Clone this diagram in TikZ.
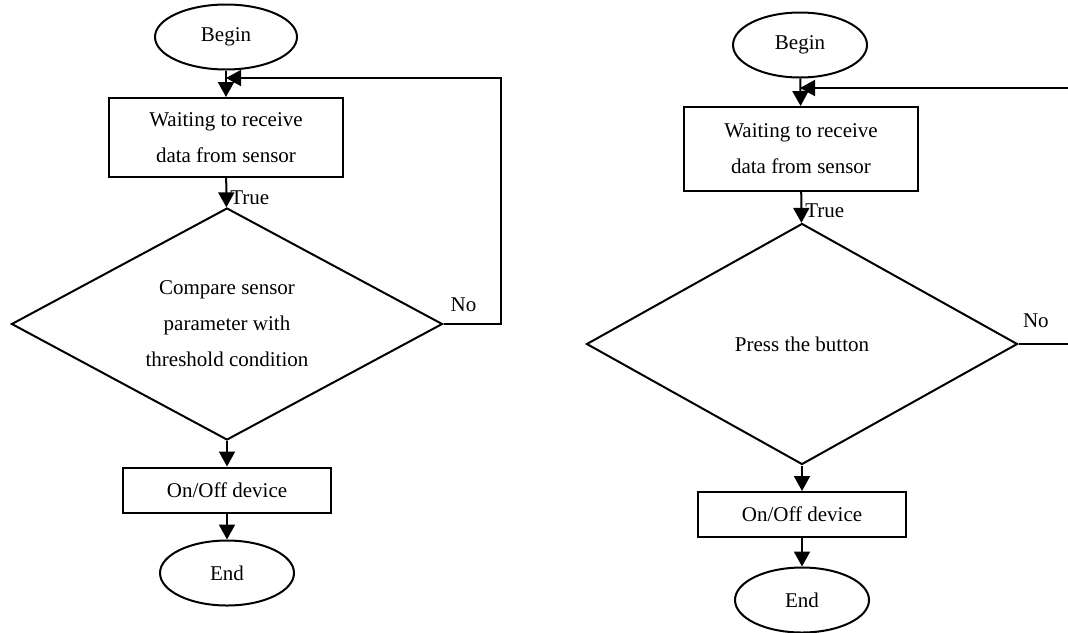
\documentclass[tikz,border=0pt]{standalone}
\usepackage{fontspec}
\setmainfont{Liberation Serif}
\usetikzlibrary{shapes.geometric, arrows.meta}

\begin{document}
\begin{tikzpicture}[x=0.5pt, y=-0.5pt, line width=1pt,
    font=\fontsize{10.5}{18}\selectfont,
    startstop/.style={ellipse, draw, inner sep=0pt, minimum width=67pt, minimum height=32.5pt},
    process/.style={rectangle, draw, align=center, inner sep=0pt, minimum width=117pt},
    decision/.style={diamond, draw, align=center, inner sep=0pt, aspect=2, minimum width=215.5pt},
    flow/.style={-{Triangle[length=7.5pt,width=8pt]}},
    lbl/.style={inner sep=1.5pt}]
    \useasboundingbox (0,0) rectangle (1068,632);

    \node[startstop, minimum width=71pt] (begin1) at (226,37) {Begin};
    \node[process, minimum height=39.5pt] (wait1) at (226,137.5) {Waiting to receive\\data from sensor};
    \node[decision, minimum height=116pt] (cmp1) at (227,324) {Compare sensor\\parameter with\\threshold condition};
    \node[process, minimum width=104pt, minimum height=22.5pt] (dev1) at (227,490) {On/Off device};
    \node[startstop] (end1) at (227,573) {End};
    \coordinate (join1) at (226,78);

    \path[flow]
        (begin1) edge (wait1)
        (wait1) edge node[right, lbl, pos=0.68] {True} (cmp1)
        (cmp1) edge (dev1)
        (dev1) edge (end1);
    \draw[flow] (cmp1.east) -- node[above=4pt, lbl, pos=0.35] {No} ++(57,0) |- (join1);

    \node[startstop] (begin2) at (800,45) {Begin};
    \node[process, minimum height=42pt] (wait2) at (801,149) {Waiting to receive\\data from sensor};
    \node[decision, minimum height=120.5pt] (press2) at (802,344) {Press the button};
    \node[process, minimum width=104pt, minimum height=22.5pt] (dev2) at (802,514.5) {On/Off device};
    \node[startstop] (end2) at (802,600) {End};
    \coordinate (join2) at (800,88);

    \path[flow]
        (begin2) edge (wait2)
        (wait2) edge node[right, lbl, pos=0.6] {True} (press2)
        (press2) edge (dev2)
        (dev2) edge (end2);
    \draw[flow] (press2.east) -- node[above=6pt, lbl, pos=0.28] {No} ++(62,0) |- (join2);
\end{tikzpicture}
\end{document}
